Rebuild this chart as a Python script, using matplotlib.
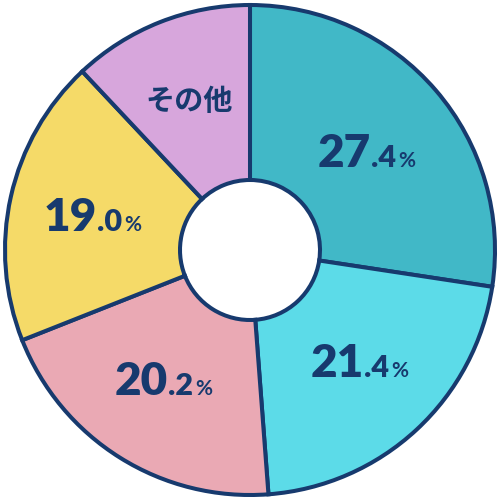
import matplotlib.pyplot as plt

# dados do gráfico (sentido horário a partir do topo)
rotulos = ['27.4%', '21.4%', '20.2%', '19.0%', 'その他']
valores = [27.4, 21.4, 20.2, 19.0, 12.0]
cores = ['#41b8c7', '#5cdbe8', '#eaa9b4', '#f5da68', '#d7a6dc']
azul = '#173a6e'

fig = plt.figure(figsize=(5.0, 4.99), dpi=100)
ax = fig.add_axes([0, 0, 1, 1])
ax.axis('off')

R = 245.0  # raio externo em pixels
ax.pie(valores, colors=cores, startangle=90, counterclock=False, radius=1.0,
       wedgeprops=dict(width=1 - 70 / R, edgecolor=azul, linewidth=2.9))
ax.set_xlim(-250 / R, 250 / R)
ax.set_ylim(-249 / R, 250 / R)
ax.set_aspect('equal')


def px(x, y):
    # converte pixel (a partir do topo-esquerdo) para coordenadas dos dados
    return (x - 250) / R, (250 - y) / R


# posições dos rótulos: (x do ponto de divisão, linha de base)
posicoes = [(371, 167), (364, 377), (168, 395), (97, 231)]
fonte = 'Lato'
pequenos = []
for rot, (xs, yb) in zip(rotulos[:4], posicoes):
    inteiro, resto = rot.split('.')
    x, y = px(xs, yb)
    ax.text(x, y, inteiro, ha='right', va='baseline', fontsize=33,
            fontweight='heavy', family=fonte, color=azul)
    pequenos.append(ax.text(x, y, '.' + resto[:-1], ha='left', va='baseline',
                            fontsize=22, fontweight='heavy', family=fonte, color=azul))

# o sinal de % vem logo depois do número pequeno
fig.canvas.draw()
rend = fig.canvas.get_renderer()
for txt in pequenos:
    bb = txt.get_window_extent(rend)
    xd, _ = ax.transData.inverted().transform((bb.x1 + 2, 0))
    ax.text(xd, txt.get_position()[1], '%', ha='left', va='baseline',
            fontsize=15, fontweight='bold', family=fonte, color=azul)

x, y = px(189, 101)
ax.text(x, y, rotulos[4], ha='center', va='center', fontsize=21,
        fontweight='bold', family=['Noto Sans CJK JP', 'DejaVu Sans'], color=azul)

fig.savefig('out.png', dpi=100)
